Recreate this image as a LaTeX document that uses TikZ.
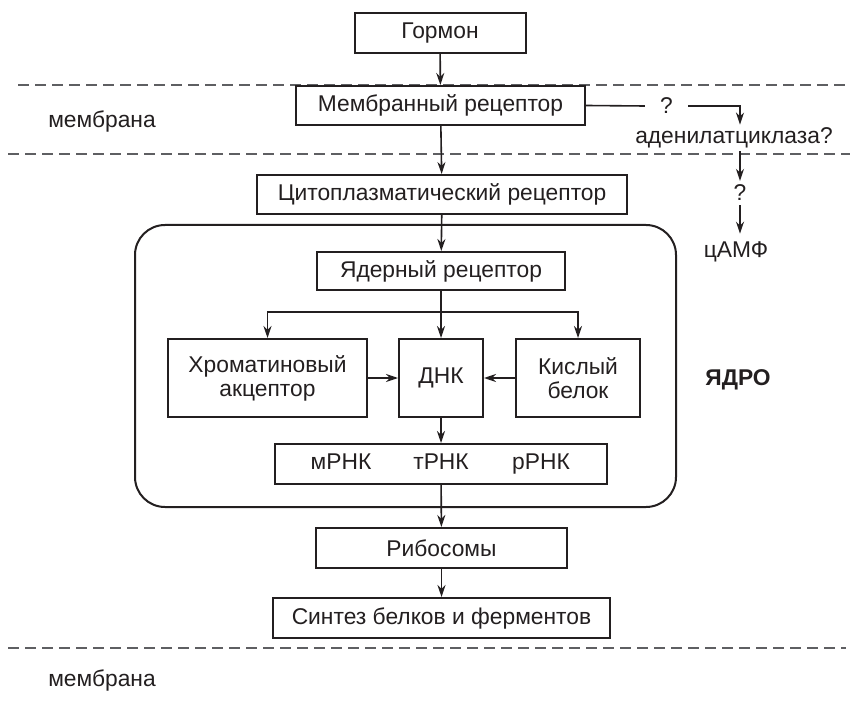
\documentclass[tikz,border=0pt]{standalone}
\usepackage{fontspec}
\setmainfont{Liberation Sans}
\usetikzlibrary{arrows.meta}
\definecolor{ink}{HTML}{231F20}
\definecolor{memgray}{HTML}{5E5F62}
\begin{document}
\begin{tikzpicture}[x=1pt,y=-1pt,
  font=\fontsize{22.8}{24}\selectfont, text=ink,
  box/.style={draw=ink, line width=2pt, fill=white, inner sep=0pt, align=center},
  arr/.style={draw=ink, line width=1.6pt, -{Stealth[length=12pt,width=8pt]}},
  link/.style={draw=ink, line width=1.6pt},
  membline/.style={draw=memgray, line width=1.6pt, dash pattern=on 11pt off 6pt},
  lbl/.style={inner sep=0pt}]
\fill[white] (0,0) rectangle (858,708);
\useasboundingbox (0,0) rectangle (858,708);

% membrane borders
\draw[membline] (18,85) -- (850,85);
\draw[membline] (8,154) -- (850,154);
\draw[membline] (8,648) -- (846,648);
\node[lbl] (memtop) at (102,122) {мембрана};
\node[lbl] (membot) at (102,680) {мембрана};

% nucleus
\node[draw=ink, line width=2pt, rounded corners=30pt, minimum width=541pt, minimum height=282pt, inner sep=0pt] (nucleus) at (405.5,366) {};
\node[lbl, font=\fontsize{22.8}{24}\selectfont\bfseries] (core) at (738,380) {ЯДРО};

% main chain
\node[box, minimum width=171pt, minimum height=40pt] (horm) at (440,33) {Гормон};
\node[box, minimum width=289pt, minimum height=39pt] (memb) at (440.5,105.5) {Мембранный рецептор};
\node[box, minimum width=370pt, minimum height=39pt] (cyto) at (442,194.5) {Цитоплазматический рецептор};
\node[box, minimum width=248pt, minimum height=38pt] (nucrec) at (441,271) {Ядерный рецептор};
\node[box, minimum width=199pt, minimum height=78pt] (chrom) at (267.5,378) {Хроматиновый\\акцептор};
\node[box, minimum width=84pt, minimum height=78pt] (dna) at (441,378) {ДНК};
\node[box, minimum width=124pt, minimum height=78pt] (acid) at (578,378) {Кислый\\белок};
\node[box, minimum width=332pt, minimum height=40pt] (rna) at (441,464)
  {\makebox[100pt]{мРНК}\makebox[100pt]{тРНК}\makebox[100pt]{рРНК}};
\node[box, minimum width=251pt, minimum height=40pt] (ribo) at (441.5,548) {Рибосомы};
\node[box, minimum width=337pt, minimum height=40pt] (synth) at (441.5,618) {Синтез белков и ферментов};

\draw[arr] (horm) -- (memb);
\draw[arr] (memb) -- (cyto);
\draw[arr] (cyto) -- (nucrec);
\draw[arr] (nucrec) -- (dna);
\coordinate (fork) at (441,312);
\draw[arr] (fork) -| (chrom.north);
\draw[arr] (fork) -| (acid.north);
\draw[arr] (chrom) -- (dna);
\draw[arr] (acid) -- (dna);
\draw[arr] (dna) -- (rna);
\draw[arr] (rna) -- (ribo);
\draw[arr] (ribo) -- (synth);

% side branch
\node[lbl, minimum width=43pt] (q1) at (666.5,106) {?};
\node[inner sep=3pt] (aden) at (734,138) {аденилатциклаза?};
\node[inner sep=4pt] (q2) at (740,193) {?};
\node[inner sep=8pt] (camp) at (736,252) {цАМФ};
\draw[link] (memb.east) -- (q1.west);
\draw[arr] (q1.east) -| (aden.north -| q2);
\draw[arr] (aden.south -| q2) -- (q2.north);
\draw[arr] (q2.south) -- (camp.north -| q2);
\end{tikzpicture}
\end{document}
